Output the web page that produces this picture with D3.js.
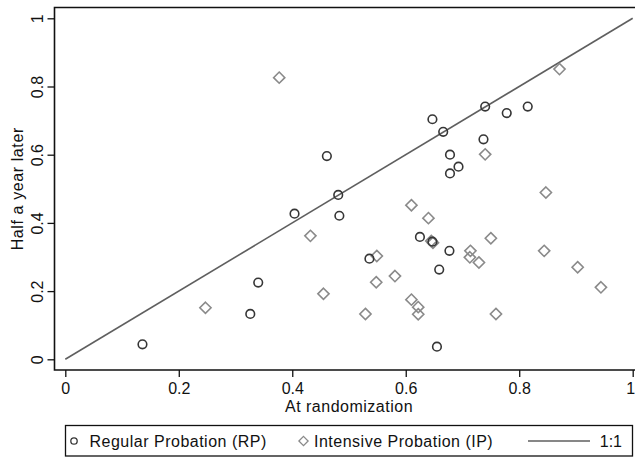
<!DOCTYPE html>
<html>
<head>
<meta charset="utf-8">
<script src="https://cdn.jsdelivr.net/npm/d3@7"></script>
<style>
  html, body { margin: 0; padding: 0; background: #fff; }
  svg { display: block; font-family: "Liberation Sans", Arial, Helvetica, sans-serif; }
</style>
</head>
<body>
<svg id="chart" width="635" height="457"></svg>
<script>
// Regular Probation (RP): [at randomization, half a year later]
const rpX = [0.136, 0.326, 0.340, 0.404, 0.461, 0.481, 0.483, 0.536, 0.625, 0.647, 0.647, 0.655, 0.659, 0.666, 0.677, 0.678, 0.678, 0.693, 0.737, 0.740, 0.778, 0.815];
const rpY = [0.044, 0.133, 0.225, 0.427, 0.596, 0.482, 0.421, 0.295, 0.359, 0.345, 0.704, 0.037, 0.263, 0.667, 0.318, 0.600, 0.545, 0.565, 0.645, 0.741, 0.722, 0.741];
// Intensive Probation (IP)
const ipX = [0.247, 0.377, 0.432, 0.455, 0.529, 0.548, 0.549, 0.581, 0.610, 0.610, 0.622, 0.622, 0.640, 0.645, 0.648, 0.713, 0.714, 0.729, 0.740, 0.750, 0.759, 0.844, 0.847, 0.871, 0.903, 0.944];
const ipY = [0.151, 0.826, 0.362, 0.192, 0.133, 0.226, 0.303, 0.244, 0.452, 0.175, 0.153, 0.132, 0.414, 0.347, 0.342, 0.299, 0.318, 0.284, 0.601, 0.355, 0.133, 0.318, 0.489, 0.851, 0.270, 0.211];
// 1:1 reference line
const refLine = [0, 1];
const xTicks = [0, 0.2, 0.4, 0.6, 0.8, 1];
const yTicks = [0, 0.2, 0.4, 0.6, 0.8, 1];
const legendLabels = ["Regular Probation (RP)", "Intensive Probation (IP)", "1:1"];

const svg = d3.select("#chart");
const x = d3.scaleLinear().domain([0, 1]).range([65.3, 632.7]);
const y = d3.scaleLinear().domain([0, 1]).range([359.3, 18.3]);

const frameL = 54.5, frameT = 7.5, frameB = 370;
const darkC = "#363636", grayC = "#8a8a8a", lineC = "#5f5f5f";
const fmt = d => d === 0 ? "0" : d === 1 ? "1" : d3.format(".1f")(d);

// plot frame (right side runs past the image edge)
svg.append("path")
  .attr("d", `M700,${frameT}H${frameL}V${frameB}H700`)
  .attr("fill", "none").attr("stroke", "#111").attr("stroke-width", 1.6);

// x axis
const xAxis = svg.append("g").attr("transform", `translate(0,${frameB})`)
  .call(d3.axisBottom(x).tickValues(xTicks).tickSize(7).tickPadding(6).tickFormat(fmt));
xAxis.select(".domain").remove();
xAxis.selectAll(".tick line").attr("stroke", "#111").attr("stroke-width", 1.3);
xAxis.selectAll("text").attr("font-size", 16).attr("fill", "#111")
  .attr("font-family", "Liberation Sans, Arial, sans-serif")
  .attr("dx", d => d === 1 ? -2.5 : 0);

// y axis
const yAxis = svg.append("g").attr("transform", `translate(${frameL},0)`)
  .call(d3.axisLeft(y).tickValues(yTicks).tickSize(7).tickFormat(fmt));
yAxis.select(".domain").remove();
yAxis.selectAll(".tick line").attr("stroke", "#111").attr("stroke-width", 1.3);
yAxis.selectAll("text")
  .attr("font-size", 16).attr("fill", "#111")
  .attr("font-family", "Liberation Sans, Arial, sans-serif")
  .attr("transform", "rotate(-90)")
  .attr("x", 0).attr("y", -12).attr("dy", 0)
  .attr("text-anchor", "middle");

// axis titles
svg.append("text").attr("x", (x(0) + x(1)) / 2).attr("y", 412)
  .attr("text-anchor", "middle").attr("font-size", 16).attr("letter-spacing", 0.5).attr("fill", "#111")
  .text("At randomization");
svg.append("text")
  .attr("transform", `translate(23,${(frameT + frameB) / 2}) rotate(-90)`)
  .attr("text-anchor", "middle").attr("font-size", 16).attr("letter-spacing", 0.6).attr("fill", "#111")
  .text("Half a year later");

// 1:1 line
svg.append("line")
  .attr("x1", x(refLine[0])).attr("y1", y(refLine[0]))
  .attr("x2", x(refLine[1])).attr("y2", y(refLine[1]))
  .attr("stroke", lineC).attr("stroke-width", 1.6);

// diamonds (IP)
const dsz = 5.6;
const diamondPath = (cx, cy, s) => `M${cx},${cy - s}L${cx + s},${cy}L${cx},${cy + s}L${cx - s},${cy}Z`;
svg.append("g").selectAll("path").data(ipX.map((v, i) => [v, ipY[i]])).join("path")
  .attr("d", d => diamondPath(x(d[0]), y(d[1]), dsz))
  .attr("fill", "none").attr("stroke", grayC).attr("stroke-width", 1.6);

// circles (RP)
svg.append("g").selectAll("circle").data(rpX.map((v, i) => [v, rpY[i]])).join("circle")
  .attr("cx", d => x(d[0])).attr("cy", d => y(d[1])).attr("r", 4.3)
  .attr("fill", "none").attr("stroke", darkC).attr("stroke-width", 1.6);

// legend
const lg = svg.append("g");
lg.append("rect").attr("x", 65.5).attr("y", 425.5).attr("width", 567).attr("height", 30.5)
  .attr("fill", "#fff").attr("stroke", "#111").attr("stroke-width", 1.3);
const ly = 441;
lg.append("circle").attr("cx", 74).attr("cy", ly).attr("r", 3.2)
  .attr("fill", "none").attr("stroke", darkC).attr("stroke-width", 1.3);
lg.append("text").attr("x", 89.5).attr("y", ly + 6).attr("font-size", 16).attr("letter-spacing", 0.5).attr("fill", "#111").text(legendLabels[0]);
lg.append("path").attr("d", diamondPath(303.5, ly, 4.6))
  .attr("fill", "none").attr("stroke", grayC).attr("stroke-width", 1.3);
lg.append("text").attr("x", 314).attr("y", ly + 6).attr("font-size", 16).attr("letter-spacing", 0.5).attr("fill", "#111").text(legendLabels[1]);
lg.append("line").attr("x1", 528).attr("x2", 590).attr("y1", ly).attr("y2", ly)
  .attr("stroke", lineC).attr("stroke-width", 1.4);
lg.append("text").attr("x", 622).attr("y", ly + 6).attr("text-anchor", "end").attr("font-size", 16).attr("fill", "#111").text(legendLabels[2]);
</script>
</body>
</html>
